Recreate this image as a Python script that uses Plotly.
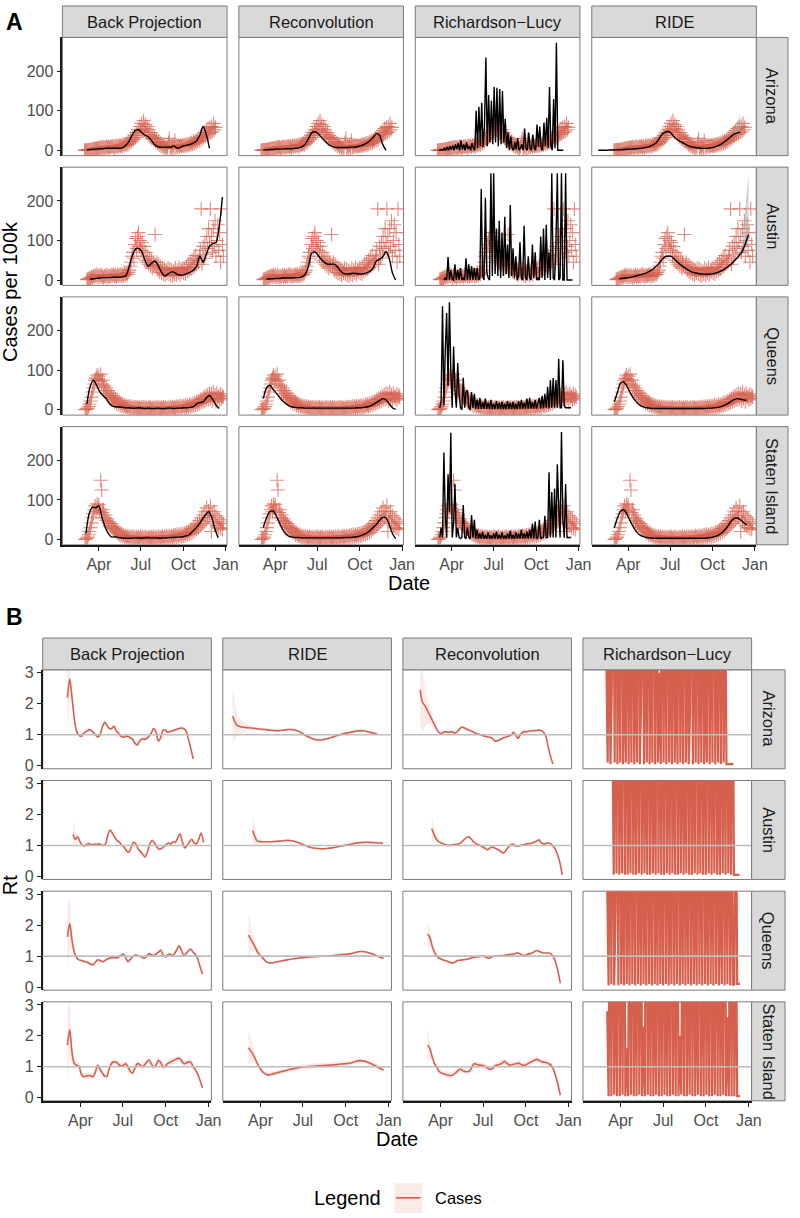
import pandas as pd
import plotly.graph_objects as go

# ---------------- categories / ticks ----------------
locations = ["Arizona", "Austin", "Queens", "Staten Island"]
loc_keys = ["az", "aus", "qns", "si"]
methods_a = ["Back Projection", "Reconvolution", "Richardson\u2212Lucy", "RIDE"]
methods_b = ["Back Projection", "RIDE", "Reconvolution", "Richardson\u2212Lucy"]
x_tick_dates = ["2020-04-01", "2020-07-01", "2020-10-01", "2021-01-01"]
x_tick_labels = ["Apr", "Jul", "Oct", "Jan"]
y_ticks_a = [0, 100, 200]
y_ticks_b = [0, 1, 2, 3]
rt_threshold = 1

# ---------------- Panel A: observed cases per 100k (every 2 days) ----------------
az_cases = [0,0,0,1,1,1,2,1,3,2,4,3,5,4,6,5,
            7,5,8,6,9,6,8,5,10,7,9,6,10,8,11,
            7,11,6,12,9,12,8,13,10,14,9,15,12,16,14,
            18,14,22,18,26,22,32,27,38,32,45,38,52,44,60,
            50,68,48,75,55,65,45,60,40,52,35,45,30,38,28,32,
            22,28,18,22,14,18,10,15,8,12,6,10,5,9,20,
            30,4,10,6,12,5,25,7,12,8,14,9,12,10,13,
            11,14,10,15,12,16,13,18,14,20,15,22,17,24,19,26,
            22,30,25,34,28,38,32,45,36,50,40,55,42,58,45,
            60,48,68,52,58]
aus_cases = [1,2,3,5,4,8,6,10,7,12,9,14,8,
             12,7,13,8,11,6,10,9,13,7,12,9,11,8,14,
             10,15,9,12,8,13,10,14,11,15,9,14,10,16,12,18,
             14,20,25,35,45,60,70,55,90,105,80,110,120,85,100,
             75,95,60,85,50,70,45,60,40,55,35,50,30,45,38,
             115,35,45,25,40,20,35,18,30,15,28,12,25,18,30,15,
             28,12,25,10,22,15,30,12,25,18,32,14,26,20,30,
             18,28,15,32,22,40,25,45,28,50,32,55,35,62,40,
             50,45,60,75,180,40,85,55,95,65,110,80,130,95,180,
             110,70,130,85,150,60,100,140,75,120,45,180,90,60]
qns_cases = [0,1,2,4,8,14,22,32,45,55,65,75,80,88,78,
             85,72,90,65,75,58,62,48,55,40,48,35,42,30,36,
             25,32,20,28,16,24,14,20,11,17,9,14,8,12,7,10,
             6,9,5,8,4,8,4,7,3,7,3,6,3,6,2,
             6,3,7,2,6,3,5,2,6,3,7,2,5,3,6,
             2,6,3,7,2,5,3,6,2,7,3,6,3,5,2,6,
             3,7,4,8,3,7,4,9,4,8,5,10,4,9,6,
             10,5,12,6,11,7,14,8,13,9,16,10,18,12,20,
             14,22,16,26,18,28,20,32,22,35,25,38,26,42,28,
             40,22,45,28,38,20,42,30,35,25,40,28,36,32]
si_cases = [0,1,3,6,12,20,30,42,55,65,75,85,70,90,80,
            88,72,150,125,68,75,55,62,48,52,42,45,35,40,30,
            32,25,28,20,24,16,20,12,17,10,14,8,12,6,10,5,
            8,4,9,3,7,4,8,3,6,2,7,3,6,2,8,
            3,7,2,6,3,8,2,5,3,7,2,6,3,8,2,
            6,3,7,2,8,3,6,4,9,3,7,4,10,5,8,4,
            10,5,9,6,11,5,12,6,13,7,12,8,14,7,15,
            9,16,10,18,12,20,14,24,16,28,18,32,22,36,26,
            40,30,48,35,55,40,62,45,70,50,80,55,72,60,85,
            20,65,45,70,40,60,35,55,30,50,28,45,25,40]
case_starts = {"az": "2020-03-01", "aus": "2020-03-06", "qns": "2020-03-02", "si": "2020-03-02"}
case_step = 2

# Back projection (weekly)
bp_az = [1,2,3,3,4,4,5,5,5,5, 5,6,12,22,38,50,52,45,38,34, 25,14,9,8,8,8,8,11,5,8, 11,13,15,18,24,38,60,40,5]
bp_aus = [2,3,4,5,6,6,6,7,7,7, 8,10,30,60,78,80,72,50,35,42, 48,38,22,10,14,20,20,14,12,13,
          16,20,25,35,60,45,65,85,92,95, 135,210]
bp_qns = [15,58,75,62,45,36,28,15,9,7, 7,6,5,5,4,4,5,4,3,4, 3,3,4,3,3,4,4,3,4,4, 5,5,6,8,15,18,20,30,36,26, 12,3]
bp_si = [15,65,82,80,85,55,30,14,6,7, 5,4,3,3,3,4,4,3,4,5, 4,4,4,3,4,4,5,5,6,6, 7,9,12,20,28,38,50,62,70,55, 25,4]
# Reconvolution (weekly)
rc_az = [1,1,2,2,3,3,3,4,4,4, 5,6,9,16,30,44,47,42,33,24, 16,11,8,7,7,7,7,8,8,9, 11,14,18,24,32,42,38,15,0]
rc_aus = [2,3,3,4,4,5,5,5,5,6, 6,8,15,35,68,71,62,52,44,40, 40,40,33,22,16,15,16,17,16,15,
          16,18,22,30,48,52,58,72,55,18, 0]
rc_qns = [28,55,62,52,42,32,22,15,10,7, 6,5,5,4,4,4,4,4,4,4, 4,4,4,4,4,4,4,4,4,5, 5,6,7,9,13,18,23,28,25,15, 5,1]
rc_si = [30,55,70,72,60,42,25,14,8,6, 5,5,4,4,4,4,4,4,4,4, 4,4,4,4,4,5,5,5,6,7, 9,12,16,22,30,38,48,56,55,38, 15,2]
# RIDE (smooth)
ride_az = [0,0,1,1,2,3,4,6,10,19, 42,47,30,20,11,7,5,5,8,15, 27,40,46]
ride_aus = [3,5,8,12,17,25,40,58,60,45, 32,22,17,15,15,18,25,36,52,72, 115]
ride_qns = [20,45,68,70,58,42,28,18,11,7, 5,4,3,3,3,3,3,3,3,3, 3,3,3,3,3,3,3,3,3,4, 4,5,6,8,11,15,20,25,28,27, 25,24]
ride_si = [30,55,72,75,62,45,30,18,11,7, 5,4,3,3,3,3,3,3,3,3, 3,3,3,3,3,3,3,3,3,4, 5,7,10,15,22,32,44,52,55,50, 43,37]
ride_az_band_lo = [27, 38, 38]
ride_az_band_hi = [27, 44, 90]
ride_aus_band_lo = [52, 66, 95]
ride_aus_band_hi = [54, 90, 270]
# Richardson-Lucy (every 3 days)
rl_az = [0,0,2,0,5,0,8,0,10,2, 12,0,15,3,18,0,25,2,15,0, 20,3,10,0,18,5,0,100,5,110,
         10,120,8,60,235,10,140,20,125,15, 160,20,158,10,155,15,150,20,80,5, 45,0,35,5,0,20,2,30,0,5,
         15,0,55,5,0,45,5,0,40,5, 0,65,10,60,5,0,70,10,82,5, 160,10,0,130,5,272,0,0,0,0, 0]
rl_aus = [0,5,0,58,0,25,2,0,40,0, 25,0,30,0,5,0,55,0,40,0, 35,0,30,0,30,0,5,230,10,0,
          208,20,5,0,270,10,270,15,130,10, 150,5,120,10,160,15,90,5,190,10, 80,5,60,0,10,96,5,0,137,5,
          0,60,5,0,90,5,70,0,5,0, 110,5,130,0,140,5,70,0,270,5, 0,90,270,0,5,270,0,0,270,0, 0,0,0,0]
rl_qns = [5,20,262,10,150,245,60,272,100,5, 160,50,5,118,40,5,0,81,5,45, 50,5,0,45,5,40,2,25,2,30,
          2,20,2,28,2,18,2,25,2,15, 2,22,2,18,2,20,2,15,2,22, 2,18,2,20,2,15,2,22,2,25,
          3,18,3,28,3,30,3,20,3,25, 3,15,30,3,35,3,40,5,58,3, 75,5,80,5,75,5,129,5,5,125, 10,5,5,5,5,5]
rl_si = [5,30,5,220,60,5,165,70,270,5, 40,140,5,30,5,2,5,87,5,2, 30,5,2,62,5,50,2,25,2,15,
         2,20,2,12,2,18,2,10,2,15, 2,20,2,12,2,18,2,10,2,15, 2,22,2,12,2,18,2,15,2,25,
         2,15,2,20,2,25,2,40,2,45, 2,5,50,2,5,5,60,5,5,170, 5,120,5,129,5,190,80,5,272,50, 5,140,5,5,5,5]

# ---------------- Panel B: Rt ----------------
bp_az_rt = [2.2,2.8,2.2,1.5,1.1,0.98,0.95,1.05,1.1,1.15, 1.15,1.08,1.0,0.93,1.0,1.25,1.4,1.3,1.2,1.2,
            1.28,1.12,1.05,0.95,0.92,0.95,0.95,0.9,0.85,0.72, 0.67,0.8,0.87,0.85,0.88,0.95,1.05,1.2,1.1,0.8,
            0.9,1.15,1.15,1.08,1.1,1.13,1.15,1.18,1.2,1.22, 1.2,1.1,0.85,0.55,0.22]
bp_aus_rt = [1.35,1.2,1.28,1.12,1.0,0.98,1.04,1.05,1.02,1.04, 1.03,1.05,1.02,1.0,1.05,1.35,1.5,1.38,1.25,1.15,
             1.1,1.0,0.95,0.82,0.78,0.95,1.1,1.05,0.88,0.8, 0.7,0.63,0.8,1.05,1.17,1.08,0.95,0.88,0.9,0.96,
             1.03,1.08,1.05,1.12,1.1,1.25,1.38,1.1,0.92,1.0, 1.12,1.2,1.08,1.05,1.2,1.4,1.1]
bp_qns_rt = [1.62,2.05,1.5,1.12,0.95,0.88,0.86,0.83,0.82,0.78, 0.74,0.72,0.8,0.88,0.86,0.82,0.85,0.9,0.93,0.95,
             0.95,0.95,0.96,1.02,1.07,0.95,0.82,0.9,0.98,1.03, 1.02,1.0,0.96,0.93,1.0,1.08,1.05,1.02,1.06,1.12,
             1.2,1.05,0.97,1.04,1.07,1.02,1.08,1.22,1.33,1.18, 1.02,1.08,1.18,1.22,1.12,1.05,0.9,0.65,0.42]
bp_si_rt = [1.7,2.2,1.45,1.1,1.05,1.02,0.75,0.68,0.7,0.72, 0.71,0.68,0.82,1.05,0.92,0.8,0.7,0.7,0.95,1.12,
            1.16,1.15,1.08,1.02,1.05,1.1,1.0,0.85,0.8,0.95, 1.1,1.08,1.0,1.05,1.15,1.22,1.1,1.0,1.05,1.2,
            1.15,1.0,1.02,1.1,1.15,1.18,1.22,1.26,1.28,1.2, 1.1,1.12,1.16,1.15,1.0,0.9,0.75,0.55,0.32]
rc_az_rt = [2.45,2.05,1.95,1.8,1.65,1.5,1.35,1.2,1.08,1.04, 1.08,1.1,1.08,1.1,1.08,1.06,1.1,1.2,1.25,1.22,
            1.18,1.15,1.12,1.08,1.04,1.02,1.0,0.97,0.95,0.93, 0.92,0.88,0.8,0.8,0.84,0.87,0.9,0.93,0.96,0.98,
            1.08,1.0,0.88,1.0,1.08,1.1,1.1,1.12,1.12,1.13, 1.14,1.15,1.14,1.08,0.95,0.6,0.3,0.05]
rc_aus_rt = [1.55,1.35,1.2,1.12,1.08,1.05,1.02,1.0,1.01,1.02, 1.03,1.04,1.06,1.12,1.2,1.26,1.28,1.2,1.12,1.06,
             1.02,1.0,0.95,0.9,0.86,0.92,0.95,0.92,0.88,0.84, 0.78,0.76,0.86,0.95,1.02,1.04,0.98,0.98,1.0,1.02,
             1.04,1.05,1.06,1.07,1.1,1.14,1.18,1.08,1.05,1.06, 1.08,1.06,0.98,0.88,0.7,0.45,0.05]
rc_qns_rt = [1.72,1.6,1.32,1.12,1.0,0.93,0.9,0.87,0.85,0.82, 0.79,0.78,0.82,0.86,0.87,0.88,0.89,0.9,0.92,0.95,
             0.96,0.97,0.98,1.0,1.0,0.97,0.93,0.95,0.99,1.0, 1.0,1.02,1.01,1.03,1.04,1.05,1.06,1.07,1.09,1.1,
             1.06,1.02,1.03,1.06,1.08,1.1,1.15,1.18,1.15,1.12, 1.1,1.1,1.1,1.07,0.98,0.8,0.5,0.12]
rc_si_rt = [1.7,1.58,1.32,1.1,0.98,0.85,0.8,0.77,0.75,0.73, 0.72,0.74,0.8,0.88,0.93,0.88,0.85,0.84,0.86,0.98,
            1.1,1.08,1.06,1.05,1.03,1.0,0.95,0.92,0.95,1.03, 1.06,1.08,1.12,1.18,1.12,1.06,1.06,1.08,1.1,1.12,
            1.08,1.05,1.06,1.1,1.14,1.18,1.22,1.24,1.2,1.16, 1.15,1.14,1.1,1.05,0.92,0.7,0.42,0.08]
ride_az_rt = [1.6,1.3,1.25,1.23,1.22,1.2,1.18,1.17,1.15,1.13, 1.13,1.15,1.17,1.16,1.12,1.04,0.95,0.88,0.84,0.83,
              0.86,0.9,0.95,1.0,1.04,1.07,1.1,1.13,1.13,1.1, 1.06,1.02]
ride_aus_rt = [1.48,1.15,1.12,1.12,1.12,1.13,1.14,1.16,1.16,1.13, 1.08,1.02,0.96,0.92,0.9,0.89,0.9,0.92,0.95,0.98,
               1.01,1.04,1.07,1.09,1.1,1.1,1.09,1.08,1.07]
ride_qns_rt = [1.68,1.42,1.12,0.95,0.8,0.78,0.81,0.84,0.87,0.9, 0.92,0.94,0.96,0.97,0.98,0.99,1.0,1.0,1.01,1.03,
               1.05,1.06,1.08,1.12,1.15,1.14,1.1,1.05,0.98,0.93]
ride_si_rt = [1.62,1.4,1.08,0.85,0.74,0.76,0.8,0.84,0.88,0.92, 0.95,0.98,1.0,1.01,1.02,1.03,1.04,1.05,1.06,1.07,
              1.09,1.1,1.12,1.17,1.2,1.18,1.12,1.05,0.97,0.9]
rl_az_rt = [3.8,0.1,6.5,0.05,2.6,9.0,0.1,12.0,0.05,7.5, 0.1,14.0,0.05,4.2,0.1,10.0,0.05,8.0,0.1,11.0,
            0.05,5.5,0.1,13.0,0.05,2.2,9.5,0.05,7.0,0.1, 12.0,0.05,6.0,0.1,15.0,0.05,8.5,0.1,3.0,0.05,
            11.0,0.1,9.0,0.05,13.0,0.1,7.0,0.05,10.0,0.1, 4.5,0.05,12.0,0.1,8.0,0.05,14.0,0.1,6.5,0.05,
            1.8,11.0,0.05,9.0,0.1,13.0,0.05,7.5,0.1,10.0, 0.05,3.4,0.1,12.0,0.05,8.0,0.1,15.0,0.05,6.0,
            0.1,11.0,0.05,9.0,0.1,7.0,0.05,0.05,0.05,0.05, 0.05,0.05]
rl_aus_rt = [5.0,0.05,9.0,0.1,12.0,0.05,7.0,0.1,15.0,0.05, 10.0,0.05,6.0,0.1,13.0,0.05,8.0,0.05,11.0,0.1,
             14.0,0.05,9.0,0.1,7.0,0.05,12.0,0.05,10.0,0.1, 6.0,0.05,15.0,0.1,9.0,0.05,11.0,0.05,13.0,0.1,
             8.0,0.05,12.0,0.1,7.0,0.05,14.0,0.05,10.0,0.1, 9.0,0.05,6.0,0.1,13.0,0.05,11.0,0.05,8.0,0.1,
             15.0,0.05,7.0,0.1,12.0,0.05,9.0,0.05,14.0,0.1, 10.0,0.05,8.0,0.1,13.0,0.05,6.0,0.05,11.0,0.1,
             9.0,0.05,12.0,0.1,7.0,0.05,10.0,0.05,0.05,0.05, 0.05,0.05]
rl_qns_rt = [3.3,0.05,8.0,0.1,12.0,0.05,2.4,9.0,0.05,14.0, 0.1,6.0,0.05,11.0,0.1,7.0,0.05,13.0,0.1,9.0,
             0.05,15.0,0.1,8.0,0.05,10.0,0.1,6.5,0.05,12.0, 0.1,9.0,0.05,14.0,0.1,7.0,0.05,11.0,0.1,8.0,
             0.05,13.0,0.1,10.0,0.05,6.0,0.1,12.0,0.05,9.0, 0.1,15.0,0.05,7.0,0.1,11.0,0.05,8.0,0.1,13.0,
             0.05,10.0,0.1,6.0,0.05,12.0,0.1,9.0,0.05,14.0, 0.1,7.0,0.05,11.0,0.1,8.0,0.05,13.0,0.1,10.0,
             0.05,6.0,0.1,12.0,0.05,9.0,0.1,11.0,0.05,7.0, 0.05,0.1,8.0,0.1,0.1,0.1]
rl_si_rt = [2.8,0.05,9.0,0.05,12.0,0.1,6.0,0.05,14.0,0.05, 8.0,0.1,11.0,0.05,1.6,0.05,10.0,0.1,13.0,0.05,
            7.0,0.05,12.0,0.1,9.0,0.05,2.3,0.05,15.0,0.1, 8.0,0.05,11.0,0.05,6.0,0.1,13.0,0.05,9.0,0.05,
            12.0,0.1,7.0,0.05,10.0,0.05,14.0,0.1,8.0,0.05, 11.0,0.05,2.0,0.1,9.0,0.05,13.0,0.05,7.0,0.1,
            12.0,0.05,10.0,0.05,6.0,0.1,15.0,0.05,8.0,0.05, 11.0,0.1,9.0,0.05,13.0,0.05,7.0,0.1,12.0,0.05,
            10.0,0.05,8.0,0.1,14.0,0.05,2.6,0.05,9.0,0.05, 11.0,0.05,7.0,0.05,0.05,0.05]
# credible-interval half widths (leading values, then constant)
ci_head = {
    ("az", "Back Projection"): ([1.1, 0.5, 0.25, 0.12, 0.08], 0.05),
    ("aus", "Back Projection"): ([0.45, 0.2, 0.12, 0.08], 0.05),
    ("qns", "Back Projection"): ([1.0, 0.8, 0.3, 0.12], 0.05),
    ("si", "Back Projection"): ([1.2, 0.9, 0.35, 0.15], 0.1),
    ("az", "RIDE"): ([0.9, 0.3, 0.2, 0.12, 0.08], 0.04),
    ("aus", "RIDE"): ([0.5, 0.12, 0.06], 0.03),
    ("qns", "RIDE"): ([0.7, 0.25, 0.1, 0.05], 0.03),
    ("si", "RIDE"): ([0.55, 0.25, 0.12], 0.08),
    ("az", "Reconvolution"): ([1.1, 1.0, 0.7, 0.45, 0.3, 0.2, 0.12, 0.08], 0.04),
    ("aus", "Reconvolution"): ([0.45, 0.2, 0.1], 0.04),
    ("qns", "Reconvolution"): ([0.45, 0.25, 0.1], 0.04),
    ("si", "Reconvolution"): ([0.55, 0.3, 0.12], 0.1),
}

# ---------------- assemble series tables ----------------
RL = "Richardson\u2212Lucy"
cases = {"az": az_cases, "aus": aus_cases, "qns": qns_cases, "si": si_cases}
series_a = {
    ("az", "Back Projection"): ("2020-03-06", 7, bp_az), ("aus", "Back Projection"): ("2020-03-13", 7, bp_aus),
    ("qns", "Back Projection"): ("2020-03-06", 7, bp_qns), ("si", "Back Projection"): ("2020-03-04", 7, bp_si),
    ("az", "Reconvolution"): ("2020-03-06", 7, rc_az), ("aus", "Reconvolution"): ("2020-03-13", 7, rc_aus),
    ("qns", "Reconvolution"): ("2020-03-06", 7, rc_qns), ("si", "Reconvolution"): ("2020-03-06", 7, rc_si),
    ("az", "RIDE"): ("2020-01-27", 14, ride_az), ("aus", "RIDE"): ("2020-03-13", 14, ride_aus),
    ("qns", "RIDE"): ("2020-03-02", 7, ride_qns), ("si", "RIDE"): ("2020-03-02", 7, ride_si),
    ("az", RL): ("2020-03-04", 3, rl_az), ("aus", RL): ("2020-03-15", 3, rl_aus),
    ("qns", RL): ("2020-03-06", 3, rl_qns), ("si", RL): ("2020-03-06", 3, rl_si),
}
ride_bands = {"az": (ride_az_band_lo, ride_az_band_hi), "aus": (ride_aus_band_lo, ride_aus_band_hi)}
series_b = {
    ("az", "Back Projection"): ("2020-03-04", 5, bp_az_rt), ("aus", "Back Projection"): ("2020-03-16", 5, bp_aus_rt),
    ("qns", "Back Projection"): ("2020-03-04", 5, bp_qns_rt), ("si", "Back Projection"): ("2020-03-04", 5, bp_si_rt),
    ("az", "RIDE"): ("2020-02-01", 10, ride_az_rt), ("aus", "RIDE"): ("2020-03-15", 10, ride_aus_rt),
    ("qns", "RIDE"): ("2020-03-06", 10, ride_qns_rt), ("si", "RIDE"): ("2020-03-06", 10, ride_si_rt),
    ("az", "Reconvolution"): ("2020-02-17", 5, rc_az_rt), ("aus", "Reconvolution"): ("2020-03-13", 5, rc_aus_rt),
    ("qns", "Reconvolution"): ("2020-03-04", 5, rc_qns_rt), ("si", "Reconvolution"): ("2020-03-04", 5, rc_si_rt),
    ("az", RL): ("2020-03-01", 3, rl_az_rt), ("aus", RL): ("2020-03-14", 3, rl_aus_rt),
    ("qns", RL): ("2020-03-03", 3, rl_qns_rt), ("si", RL): ("2020-03-03", 3, rl_si_rt),
}


def dates(start, step, n):
    return pd.date_range(start, periods=n, freq=f"{step}D")


# ---------------- styling / geometry ----------------
W, H = 800, 1218
FONT = "Liberation Sans, Arial, Helvetica, sans-serif"
RED = "#D6604D"
CASE_COL = "rgba(214,96,77,0.72)"
RIBBON = "rgba(214,96,77,0.13)"
BORDER = "#7A7A7A"
AXIS = "#1A1A1A"
STRIP_FILL = "#D9D9D9"
TICK_FONT = dict(family=FONT, size=16, color="#4D4D4D")

A_left, A_w, A_gap = 63.3, 166.9, 12.0
A_top, A_h, A_vgap = 32.7, 119.2, 11.6
B_left, B_w, B_gap = 43.3, 171.0, 11.6
B_top, B_h, B_vgap = 670.3, 99.8, 11.8
A_xrange = ["2020-01-13", "2021-01-04"]
B_xrange = ["2020-01-11", "2021-01-07"]
A_yrange = [-13.6, 285.6]
B_yrange = [-0.1, 3.1]


def ax(letter, k):
    return letter if k == 1 else f"{letter}{k}"


fig = go.Figure()
layout = dict(width=W, height=H, margin=dict(l=0, r=0, t=0, b=0), showlegend=False,
              paper_bgcolor="white", plot_bgcolor="rgba(0,0,0,0)", font=dict(family=FONT, color="#1A1A1A"))
shapes, annotations = [], []


def set_axes(k, left, top, w, h, xr, yr, yt, show_y, show_x):
    xa = dict(domain=[left / W, (left + w) / W], anchor=ax("y", k), type="date", range=xr,
              showgrid=False, zeroline=False, showline=show_x, mirror=False, linecolor=AXIS, linewidth=1.6,
              tickmode="array", tickvals=x_tick_dates, ticktext=x_tick_labels,
              ticks="outside" if show_x else "", ticklen=4, tickwidth=1.2, tickcolor=AXIS,
              showticklabels=show_x, tickfont=TICK_FONT, fixedrange=True)
    ya = dict(domain=[1 - (top + h) / H, 1 - top / H], anchor=ax("x", k), range=yr,
              showgrid=False, zeroline=False, showline=show_y, mirror=False, linecolor=AXIS, linewidth=1.6,
              tickmode="array", tickvals=yt, ticks="outside" if show_y else "", ticklen=4, tickwidth=1.2,
              tickcolor=AXIS, showticklabels=show_y, tickfont=TICK_FONT, fixedrange=True)
    layout["xaxis" if k == 1 else f"xaxis{k}"] = xa
    layout["yaxis" if k == 1 else f"yaxis{k}"] = ya
    # thin grey panel border beneath the data
    shapes.append(dict(type="rect", xref="paper", yref="paper", x0=left / W, x1=(left + w) / W,
                       y0=1 - (top + h) / H, y1=1 - top / H, fillcolor="rgba(0,0,0,0)",
                       line=dict(color=BORDER, width=1), layer="below"))


def rect(x0, y0, x1, y1, fill, line=BORDER, lw=1):
    shapes.append(dict(type="rect", xref="paper", yref="paper", x0=x0 / W, x1=x1 / W,
                       y0=1 - y1 / H, y1=1 - y0 / H, fillcolor=fill, line=dict(color=line, width=lw),
                       layer="above"))


def text(s, x, y, size, angle=0, color="#1A1A1A", xanchor="center", bold=False):
    annotations.append(dict(text=f"<b>{s}</b>" if bold else s, x=x / W, y=1 - y / H, xref="paper", yref="paper",
                            showarrow=False, textangle=angle, xanchor=xanchor, yanchor="middle",
                            font=dict(family=FONT, size=size, color=color)))


# ---------------- Panel A ----------------
for r, lk in enumerate(loc_keys):
    for c, m in enumerate(methods_a):
        k = r * 4 + c + 1
        left = A_left + c * (A_w + A_gap)
        top = A_top + r * (A_h + A_vgap)
        set_axes(k, left, top, A_w, A_h, A_xrange, A_yrange, y_ticks_a, c == 0, r == 3)
        xa, ya = ax("x", k), ax("y", k)
        cv = cases[lk]
        fig.add_trace(go.Scatter(x=dates(case_starts[lk], case_step, len(cv)), y=cv, mode="markers",
                                 marker=dict(symbol="cross-thin", size=10, color=CASE_COL,
                                             line=dict(width=1.1, color=CASE_COL)),
                                 xaxis=xa, yaxis=ya, hoverinfo="skip"))
        start, step, vals = series_a[(lk, m)]
        d = dates(start, step, len(vals))
        if m == "RIDE" and lk in ride_bands:
            lo, hi = ride_bands[lk]
            dd = list(d[-len(lo):])
            fig.add_trace(go.Scatter(x=dd + dd[::-1], y=list(hi) + list(lo)[::-1], fill="toself",
                                     fillcolor="rgba(170,170,170,0.55)", line=dict(width=0),
                                     mode="lines", xaxis=xa, yaxis=ya, hoverinfo="skip"))
        smooth = m != RL
        fig.add_trace(go.Scatter(x=d, y=vals, mode="lines",
                                 line=dict(color="black", width=1.4,
                                           shape="spline" if smooth else "linear", smoothing=0.8),
                                 xaxis=xa, yaxis=ya, hoverinfo="skip"))
        if r == 0:
            rect(left, 1.0, left + A_w, A_top, STRIP_FILL)
            text(m, left + A_w / 2, (1.0 + A_top) / 2 + 0.5, 16.5)
    top = A_top + r * (A_h + A_vgap)
    sx0 = A_left + 3 * (A_w + A_gap) + A_w
    rect(sx0, top, 799.0, top + A_h, STRIP_FILL)
    text(locations[r], (sx0 + 799.0) / 2 + 0.5, top + A_h / 2, 16.5, angle=90)

# ---------------- Panel B ----------------
for r, lk in enumerate(loc_keys):
    for c, m in enumerate(methods_b):
        k = 16 + r * 4 + c + 1
        left = B_left + c * (B_w + B_gap)
        top = B_top + r * (B_h + B_vgap)
        set_axes(k, left, top, B_w, B_h, B_xrange, B_yrange, y_ticks_b, c == 0, r == 3)
        xa, ya = ax("x", k), ax("y", k)
        start, step, vals = series_b[(lk, m)]
        d = dates(start, step, len(vals))
        if (lk, m) in ci_head:
            head, tail = ci_head[(lk, m)]
            hw = list(head) + [tail] * (len(vals) - len(head))
            up = [v + h for v, h in zip(vals, hw)]
            lo = [max(v - h, 0) for v, h in zip(vals, hw)]
            dl = list(d)
            fig.add_trace(go.Scatter(x=dl + dl[::-1], y=up + lo[::-1], fill="toself", fillcolor=RIBBON,
                                     line=dict(width=0), mode="lines", xaxis=xa, yaxis=ya, hoverinfo="skip"))
        smooth = m != RL
        fig.add_trace(go.Scatter(x=d, y=vals, mode="lines",
                                 line=dict(color=RED, width=1.6 if smooth else 2.2,
                                           shape="spline" if smooth else "linear", smoothing=0.8),
                                 xaxis=xa, yaxis=ya, hoverinfo="skip"))
        shapes.append(dict(type="line", xref=f"{xa} domain", yref=ya, x0=0, x1=1,
                           y0=rt_threshold, y1=rt_threshold, line=dict(color="#BEBEBE", width=1.6),
                           layer="above"))
        if r == 0:
            rect(left, 638.3, left + B_w, B_top, STRIP_FILL)
            text(m, left + B_w / 2, (638.3 + B_top) / 2 + 0.5, 16.5)
    top = B_top + r * (B_h + B_vgap)
    sx0 = B_left + 3 * (B_w + B_gap) + B_w
    rect(sx0, top, 796.0, top + B_h, STRIP_FILL)
    text(locations[r], (sx0 + 796.0) / 2 + 0.5, top + B_h / 2, 16.5, angle=90)

# ---------------- titles, labels, legend ----------------
text("A", 4, 17, 23, xanchor="left", bold=True, color="black")
text("B", 4, 617, 23, xanchor="left", bold=True, color="black")
text("Cases per 100k", 10, (A_top + A_top + 4 * A_h + 3 * A_vgap) / 2, 20, angle=-90, color="black")
text("Date", (A_left + A_left + 4 * A_w + 3 * A_gap) / 2, 583, 20, color="black")
text("Rt", 10, (B_top + B_top + 4 * B_h + 3 * B_vgap) / 2, 20, angle=-90, color="black")
text("Date", (B_left + B_left + 4 * B_w + 3 * B_gap) / 2, 1143, 20, color="black")

text("Legend", 388, 1203, 20, xanchor="right", color="black")
shapes.append(dict(type="rect", xref="paper", yref="paper", x0=400 / W, x1=428 / W,
                   y0=1 - 1218 / H, y1=1 - 1188 / H, fillcolor=RIBBON, line=dict(width=0)))
shapes.append(dict(type="line", xref="paper", yref="paper", x0=401.5 / W, x1=426.5 / W,
                   y0=1 - 1202.7 / H, y1=1 - 1202.7 / H, line=dict(color=RED, width=1.6)))
text("Cases", 439, 1203, 16.5, xanchor="left", color="black")

layout["shapes"] = shapes
layout["annotations"] = annotations
fig.update_layout(**layout)
fig.write_html("out.html", config={"displayModeBar": False},
               post_script="document.body.style.margin='0px';document.body.style.overflow='hidden';")
